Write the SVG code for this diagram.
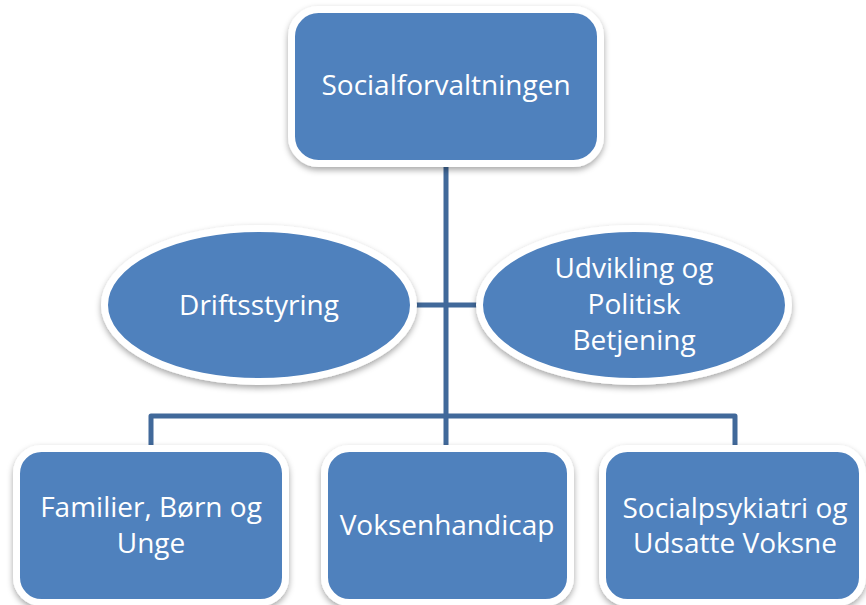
<svg xmlns="http://www.w3.org/2000/svg" width="866" height="605" viewBox="0 0 866 605">
<defs>
<filter id="sh" x="-10%" y="-10%" width="120%" height="130%">
<feDropShadow dx="0" dy="3" stdDeviation="3" flood-color="#000" flood-opacity="0.35"/>
</filter>
</defs>
<style>
.n{fill:#4F81BD;stroke:#fff;stroke-width:7;filter:url(#sh)}
.t{font-family:"Open Sans","Noto Sans",sans-serif;font-size:28px;fill:#fff;text-anchor:middle}
.c{fill:none;stroke:#41699A;stroke-width:5;stroke-linejoin:round}
</style>
<rect width="866" height="605" fill="#fff"/>
<g id="connectors">
<path class="c" d="M446 165V447"/>
<path class="c" d="M151 447V416H735V447"/>
<path class="c" d="M415 305H478"/>
</g>
<g id="n-top">
<rect class="n" x="291.5" y="9.5" width="309" height="154" rx="27"/>
<text class="t" x="446" y="95">Socialforvaltningen</text>
</g>
<g id="n-drift">
<ellipse class="n" cx="259" cy="305" rx="154.5" ry="76.5"/>
<text class="t" x="259" y="315">Driftsstyring</text>
</g>
<g id="n-udv">
<ellipse class="n" cx="634" cy="305" rx="154.5" ry="76.5"/>
<text class="t" x="634" y="278">Udvikling og</text>
<text class="t" x="634" y="314">Politisk</text>
<text class="t" x="634" y="350">Betjening</text>
</g>
<g id="n-fam">
<rect class="n" x="16.5" y="448.5" width="269" height="154" rx="25"/>
<text class="t" x="151" y="517">Familier, Børn og</text>
<text class="t" x="151" y="553">Unge</text>
</g>
<g id="n-voks">
<rect class="n" x="324.5" y="448.5" width="246" height="154" rx="25"/>
<text class="t" x="447" y="535">Voksenhandicap</text>
</g>
<g id="n-soc">
<rect class="n" x="602.5" y="448.5" width="260" height="154" rx="25"/>
<text class="t" x="735" y="518">Socialpsykiatri og</text>
<text class="t" x="735" y="553">Udsatte Voksne</text>
</g>
</svg>
